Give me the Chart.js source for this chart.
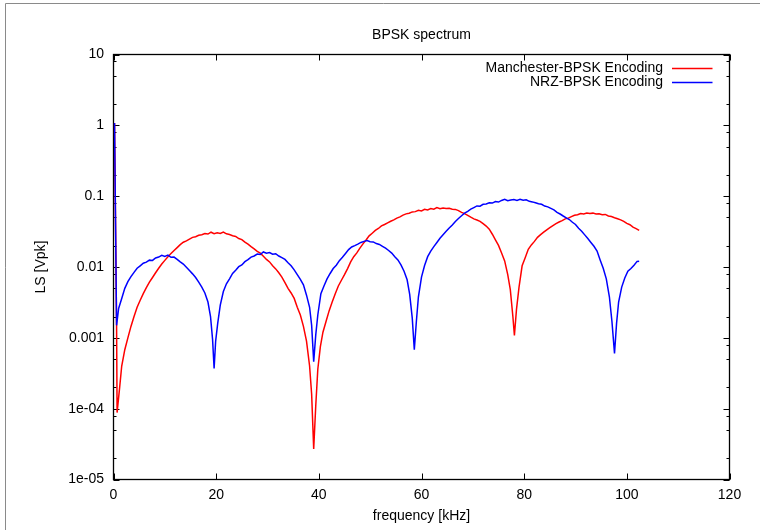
<!DOCTYPE html>
<html>
<head>
<meta charset="utf-8">
<script src="https://cdn.jsdelivr.net/npm/chart.js@4/dist/chart.umd.min.js"></script>
<style>
  html, body { margin: 0; padding: 0; background: #fff; }
  #wrap { width: 760px; height: 530px; position: relative; }
</style>
</head>
<body>
<div id="wrap"><canvas id="spectrum" width="760" height="530"></canvas></div>
<script>
// ---- labels ----
const chartTitle = 'BPSK spectrum';
const xAxisTitle = 'frequency [kHz]';
const yAxisTitle = 'LS [Vpk]';
const seriesNames = ['Manchester-BPSK Encoding', 'NRZ-BPSK Encoding'];

// ---- axis ticks ----
const xTickValues = [0, 20, 40, 60, 80, 100, 120];
const yDecadeValues = [1e-5, 1e-4, 1e-3, 1e-2, 1e-1, 1, 10];
const yDecadeLabels = ['1e-05', '1e-04', '0.001', '0.01', '0.1', '1', '10'];
const yMinorFactors = [2, 5, 8];

// ---- Manchester-BPSK spectrum (kHz, Vpk) ----
const manFreq = [
  0.2, 0.6, 0.7, 1.2, 1.6, 2.2, 2.8, 3.4, 4.0, 4.6, 5.2, 5.8, 6.4, 7.0, 7.6, 8.2, 8.8, 9.4, 10.0,
  10.6, 11.2, 11.8, 12.4, 13.0, 13.6, 14.2, 14.8, 15.4, 16.0, 16.6, 17.2, 17.8, 18.4, 19.0, 19.6,
  20.2, 20.8, 21.4, 22.0, 22.6, 23.2, 23.8, 24.4, 25.0, 25.6, 26.2, 26.8, 27.4, 28.0, 28.6, 29.2,
  29.8, 30.4, 31.0, 31.6, 32.2, 32.8, 33.4, 34.0, 34.6, 35.2, 35.8, 36.4, 37.0, 37.6, 38.2, 38.6,
  39.0, 39.4, 39.8, 40.3, 40.8, 41.4, 42.0, 42.6, 43.2, 43.8, 44.4, 45.0, 45.6, 46.2, 46.8, 47.4,
  48.0, 48.6, 49.2, 49.8, 50.4, 51.0, 51.6, 52.2, 52.8, 53.4, 54.0, 54.6, 55.2, 55.8, 56.4, 57.0,
  57.6, 58.2, 58.8, 59.4, 60.0, 60.6, 61.2, 61.8, 62.4, 63.0, 63.6, 64.2, 64.8, 65.4, 66.0, 66.6,
  67.2, 67.8, 68.4, 69.0, 69.6, 70.2, 70.8, 71.4, 72.0, 72.6, 73.2, 73.8, 74.4, 75.0, 75.6, 76.2,
  76.8, 77.3, 77.8, 78.1, 78.5, 79.0, 79.6, 80.2, 80.8, 81.4, 82.0, 82.6, 83.2, 83.8, 84.4, 85.0,
  85.6, 86.2, 86.8, 87.4, 88.0, 88.6, 89.2, 89.8, 90.4, 91.0, 91.6, 92.2, 92.8, 93.4, 94.0, 94.6,
  95.2, 95.8, 96.4, 97.0, 97.6, 98.2, 98.8, 99.4, 100.0, 100.6, 101.2, 101.8, 102.4
];
const manLevel = [
  1.08, 0.0015, 0.000088, 0.00020, 0.00040, 0.00068, 0.00100, 0.00145, 0.0020, 0.0027, 0.0034, 0.0042, 0.0051, 0.0061, 0.0071, 0.0083, 0.0096, 0.0110, 0.0124,
  0.0140, 0.0155, 0.0171, 0.0188, 0.0207, 0.0224, 0.0234, 0.0248, 0.0262, 0.0268, 0.0280, 0.0286, 0.0296, 0.0292, 0.0310, 0.0296,
  0.0305, 0.0298, 0.0312, 0.0294, 0.0288, 0.0276, 0.0270, 0.0252, 0.0244, 0.0224, 0.0210, 0.0194, 0.0180, 0.0166, 0.0157, 0.0142,
  0.0128, 0.0118, 0.0104, 0.0094, 0.0083, 0.0072, 0.0060, 0.0050, 0.0043, 0.0036, 0.0027, 0.0021, 0.00145, 0.00090, 0.00040, 0.00016,
  0.000027, 0.00011, 0.00036, 0.00075, 0.00120, 0.00170, 0.0024, 0.0032, 0.0042, 0.0054, 0.0065, 0.0078, 0.0095, 0.0118, 0.0140, 0.0158,
  0.0185, 0.0212, 0.0240, 0.0275, 0.0300, 0.0328, 0.0350, 0.0380, 0.0398, 0.0420, 0.0442, 0.0462, 0.0490, 0.0510, 0.0540, 0.0562,
  0.0575, 0.0600, 0.0605, 0.0630, 0.0618, 0.0652, 0.0640, 0.0668, 0.0655, 0.0690, 0.0665, 0.0682, 0.0670, 0.0676, 0.0655, 0.0650,
  0.0625, 0.0590, 0.0568, 0.0536, 0.0505, 0.0478, 0.0460, 0.0440, 0.0410, 0.0378, 0.0342, 0.0290, 0.0242, 0.0202, 0.0158, 0.0122,
  0.0078, 0.0048, 0.0020, 0.00108, 0.0025, 0.0052, 0.0104, 0.0135, 0.0178, 0.0205, 0.0230, 0.0262, 0.0286, 0.0310, 0.0335, 0.0360,
  0.0385, 0.0410, 0.0432, 0.0452, 0.0478, 0.0490, 0.0515, 0.0538, 0.0548, 0.0570, 0.0562, 0.0580, 0.0568, 0.0576, 0.0560, 0.0566,
  0.0548, 0.0552, 0.0525, 0.0515, 0.0496, 0.0480, 0.0462, 0.0440, 0.0412, 0.0395, 0.0365, 0.0348, 0.0328
];

// ---- NRZ-BPSK spectrum (kHz, Vpk) ----
const nrzFreq = [
  0.2, 0.6, 1.0, 1.6, 2.2, 2.8, 3.4, 4.0, 4.6, 5.2, 5.8, 6.4, 7.0, 7.6, 8.2, 8.8, 9.4, 10.0, 10.6,
  11.2, 11.8, 12.4, 13.0, 13.6, 14.2, 14.8, 15.4, 16.0, 16.6, 17.2, 17.8, 18.4, 18.9, 19.3, 19.6,
  19.9, 20.3, 20.8, 21.4, 22.0, 22.6, 23.2, 23.8, 24.4, 25.0, 25.6, 26.2, 26.8, 27.4, 28.0, 28.6,
  29.2, 29.8, 30.4, 31.0, 31.6, 32.2, 32.8, 33.4, 34.0, 34.6, 35.2, 35.8, 36.4, 37.0, 37.6, 38.2,
  38.6, 39.0, 39.4, 39.8, 40.4, 41.0, 41.6, 42.2, 42.8, 43.4, 44.0, 44.6, 45.2, 45.8, 46.4, 47.0,
  47.6, 48.2, 48.8, 49.4, 50.0, 50.6, 51.2, 51.8, 52.4, 53.0, 53.6, 54.2, 54.8, 55.4, 56.0, 56.6,
  57.2, 57.7, 58.2, 58.6, 59.0, 59.4, 60.0, 60.6, 61.2, 61.8, 62.4, 63.0, 63.6, 64.2, 64.8, 65.4,
  66.0, 66.6, 67.2, 67.8, 68.4, 69.0, 69.6, 70.2, 70.8, 71.4, 72.0, 72.6, 73.2, 73.8, 74.4, 75.0,
  75.6, 76.2, 76.8, 77.4, 78.0, 78.6, 79.2, 79.8, 80.4, 81.0, 81.6, 82.2, 82.8, 83.4, 84.0, 84.6,
  85.2, 85.8, 86.4, 87.0, 87.6, 88.2, 88.8, 89.4, 90.0, 90.6, 91.2, 91.8, 92.4, 93.0, 93.6, 94.2,
  94.8, 95.4, 96.0, 96.6, 97.1, 97.6, 98.0, 98.4, 99.0, 99.6, 100.2, 100.8, 101.4, 102.0, 102.4
];
const nrzLevel = [
  1.08, 0.0015, 0.0026, 0.0036, 0.0050, 0.0062, 0.0073, 0.0084, 0.0096, 0.0104, 0.0113, 0.0117, 0.0125, 0.0124, 0.0134, 0.0138, 0.0146, 0.0141, 0.0147,
  0.0137, 0.0138, 0.0128, 0.0118, 0.0110, 0.0099, 0.0089, 0.0080, 0.0071, 0.0061, 0.0052, 0.0043, 0.0032, 0.0020, 0.00095, 0.00037,
  0.0009, 0.0016, 0.0029, 0.0045, 0.0058, 0.0068, 0.0081, 0.0090, 0.0101, 0.0107, 0.0119, 0.0127, 0.0138, 0.0143, 0.0152, 0.0150,
  0.0163, 0.0157, 0.0160, 0.0152, 0.0154, 0.0143, 0.0136, 0.0128, 0.0115, 0.0104, 0.0091, 0.0078, 0.0067, 0.0056, 0.0040, 0.0027,
  0.0015, 0.00046, 0.0011, 0.0021, 0.0042, 0.0054, 0.0068, 0.0081, 0.0095, 0.0106, 0.0123, 0.0137, 0.0155, 0.0176, 0.0192, 0.0200,
  0.0210, 0.0222, 0.0230, 0.0236, 0.0228, 0.0226, 0.0214, 0.0208, 0.0196, 0.0185, 0.0171, 0.0157, 0.0140, 0.0126, 0.0107, 0.0087,
  0.0066, 0.0041, 0.0019, 0.00068, 0.0017, 0.0038, 0.0072, 0.0105, 0.0140, 0.0168, 0.0194, 0.0222, 0.0255, 0.0285, 0.0320, 0.0355,
  0.0392, 0.0440, 0.0485, 0.0530, 0.0575, 0.0612, 0.0655, 0.0690, 0.0728, 0.0722, 0.0768, 0.0776, 0.0805, 0.0798, 0.0838, 0.0826,
  0.0870, 0.0905, 0.0862, 0.0880, 0.0894, 0.0868, 0.0902, 0.0875, 0.0890, 0.0845, 0.0830, 0.0806, 0.0780, 0.0768, 0.0725, 0.0706,
  0.0672, 0.0640, 0.0590, 0.0560, 0.0525, 0.0495, 0.0468, 0.0428, 0.0398, 0.0352, 0.0320, 0.0284, 0.0252, 0.0222, 0.0196, 0.0168,
  0.0126, 0.0096, 0.0068, 0.0038, 0.0017, 0.00060, 0.0016, 0.0032, 0.0052, 0.0070, 0.0087, 0.0095, 0.0106, 0.0120, 0.0121
];

const FONT_FAMILY = '"Liberation Sans", Arial, Helvetica, sans-serif';
Chart.defaults.font.family = FONT_FAMILY;
Chart.defaults.font.size = 14;
Chart.defaults.color = '#000';

function toPoints(xs, ys) {
  return xs.map((x, i) => ({ x: x, y: ys[i] }));
}
function isDecade(v) {
  const l = Math.log10(v);
  return Math.abs(l - Math.round(l)) < 1e-9;
}

// outer page frame, plot border and inward (mirrored) tick marks
const framePlugin = {
  id: 'gnuFrame',
  beforeDatasetsDraw(chart) {
    const ctx = chart.ctx;
    const { left, right, top, bottom } = chart.chartArea;
    const xs = chart.scales.x, ys = chart.scales.y;
    ctx.save();
    // page frame
    ctx.strokeStyle = '#8a8a8a';
    ctx.lineWidth = 1;
    ctx.beginPath();
    ctx.moveTo(5.5, chart.height + 5);
    ctx.lineTo(5.5, 3.5);
    ctx.lineTo(chart.width + 5, 3.5);
    ctx.stroke();

    ctx.strokeStyle = '#000';
    ctx.lineWidth = 1;
    ctx.beginPath();
    xs.ticks.forEach(t => {
      const px = Math.round(xs.getPixelForValue(t.value)) + 0.5;
      ctx.moveTo(px, bottom); ctx.lineTo(px, bottom - 6);
      ctx.moveTo(px, top); ctx.lineTo(px, top + 6);
    });
    ys.ticks.forEach(t => {
      const py = Math.round(ys.getPixelForValue(t.value)) + 0.5;
      const len = isDecade(t.value) ? 6 : 3;
      ctx.moveTo(left, py); ctx.lineTo(left + len, py);
      ctx.moveTo(right, py); ctx.lineTo(right - len, py);
    });
    ctx.stroke();
    ctx.lineWidth = 1.3;
    ctx.strokeRect(left, top, right - left, bottom - top);
    ctx.restore();
  },
  // title centred over the plotting area
  afterDraw(chart) {
    const ctx = chart.ctx;
    const { left, right } = chart.chartArea;
    ctx.save();
    ctx.font = '14px ' + FONT_FAMILY;
    ctx.fillStyle = '#000';
    ctx.textAlign = 'center';
    ctx.textBaseline = 'middle';
    ctx.fillText(chartTitle, (left + right) / 2, 35.4);
    ctx.restore();
  }
};

// key in the upper right corner: label text followed by a line sample
const keyPlugin = {
  id: 'gnuKey',
  afterDatasetsDraw(chart) {
    const ctx = chart.ctx;
    const { right, top } = chart.chartArea;
    ctx.save();
    ctx.font = '14px ' + FONT_FAMILY;
    ctx.textAlign = 'right';
    ctx.textBaseline = 'middle';
    chart.data.datasets.forEach((ds, i) => {
      const y = top + 14 + i * 14;
      ctx.fillStyle = '#000';
      ctx.fillText(ds.label, right - 66.5, y);
      ctx.strokeStyle = ds.borderColor;
      ctx.lineWidth = ds.borderWidth;
      ctx.beginPath();
      ctx.moveTo(right - 57.5, y);
      ctx.lineTo(right - 17, y);
      ctx.stroke();
    });
    ctx.restore();
  }
};

new Chart(document.getElementById('spectrum'), {
  type: 'scatter',
  data: {
    datasets: [
      {
        label: seriesNames[0],
        data: toPoints(manFreq, manLevel),
        showLine: true,
        borderColor: '#ff0000',
        backgroundColor: '#ff0000',
        borderWidth: 1.5,
        pointRadius: 0,
        tension: 0,
        order: 1
      },
      {
        label: seriesNames[1],
        data: toPoints(nrzFreq, nrzLevel),
        showLine: true,
        borderColor: '#0000ff',
        backgroundColor: '#0000ff',
        borderWidth: 1.5,
        pointRadius: 0,
        tension: 0,
        order: 0
      }
    ]
  },
  options: {
    responsive: false,
    animation: false,
    devicePixelRatio: 1,
    layout: { padding: { left: 0, right: 30.5, top: 54.5, bottom: 0 } },
    plugins: {
      legend: { display: false },
      tooltip: { enabled: false },
      title: { display: false }
    },
    scales: {
      x: {
        type: 'linear',
        min: 0,
        max: 120,
        afterBuildTicks(scale) {
          scale.ticks = xTickValues.map(v => ({ value: v }));
        },
        afterFit(scale) { scale.height = 50.5; },
        grid: { display: false, drawTicks: false },
        border: { display: false },
        ticks: { autoSkip: false, maxRotation: 0, padding: 7, color: '#000' },
        title: {
          display: true,
          text: xAxisTitle,
          color: '#000',
          font: { size: 14 },
          padding: { top: 0, bottom: 5.6 }
        }
      },
      y: {
        type: 'logarithmic',
        min: 1e-5,
        max: 10,
        afterBuildTicks(scale) {
          const ticks = [];
          yDecadeValues.forEach(d => {
            ticks.push({ value: d, major: true });
            if (d < 10) yMinorFactors.forEach(m => ticks.push({ value: d * m, major: false }));
          });
          scale.ticks = ticks;
        },
        afterFit(scale) { scale.width = 113.5; },
        grid: { display: false, drawTicks: false },
        border: { display: false },
        ticks: {
          autoSkip: false,
          padding: 9.5,
          color: '#000',
          callback(value) {
            const i = yDecadeValues.findIndex(d => Math.abs(d - value) / d < 1e-6);
            return i >= 0 ? yDecadeLabels[i] : '';
          }
        },
        title: {
          display: true,
          text: yAxisTitle,
          color: '#000',
          font: { size: 14 },
          padding: { top: 32.6, bottom: 0 }
        }
      }
    }
  },
  plugins: [framePlugin, keyPlugin]
});
</script>
</body>
</html>
